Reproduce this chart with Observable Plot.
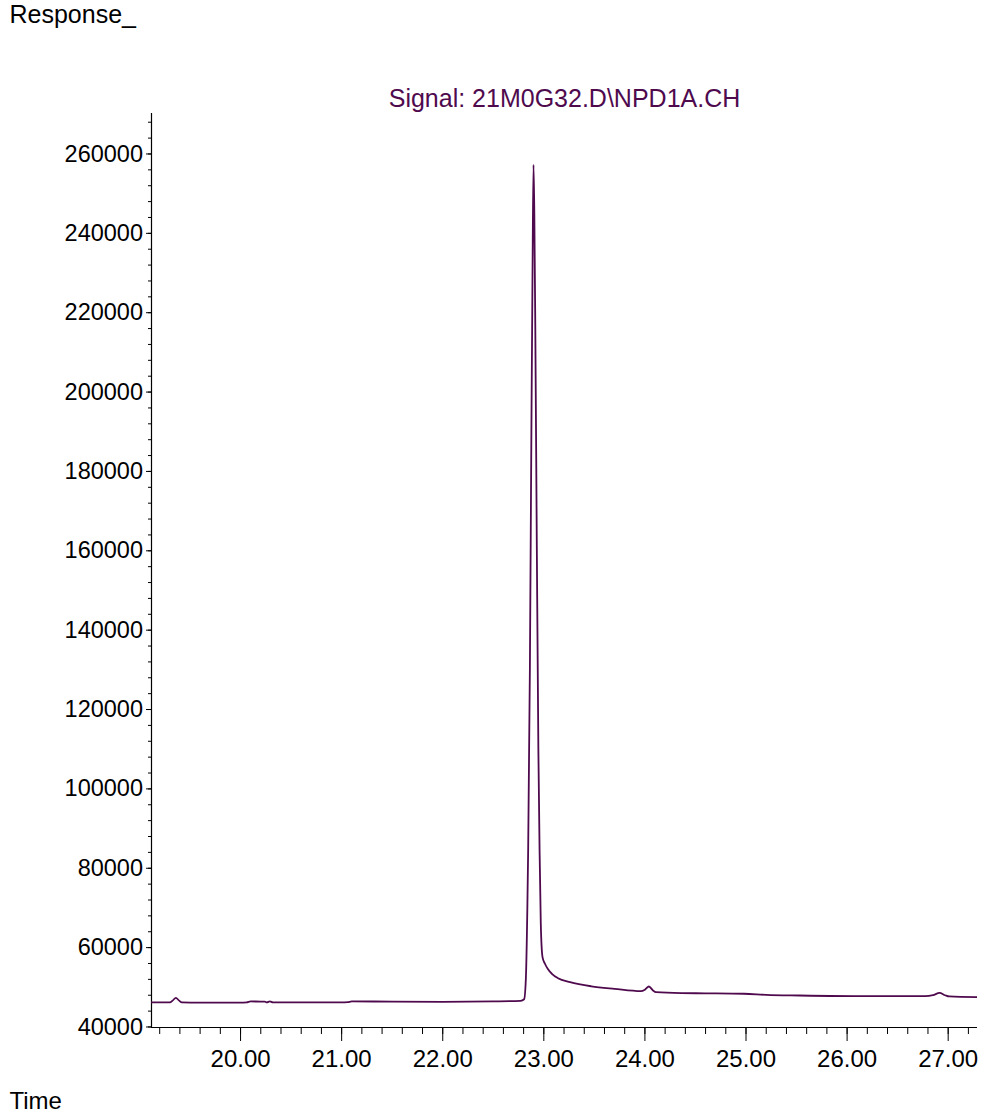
<!DOCTYPE html>
<html>
<head>
<meta charset="utf-8">
<script src="https://cdn.jsdelivr.net/npm/d3@7"></script>
<script src="https://cdn.jsdelivr.net/npm/@observablehq/plot@0.6"></script>
<style>
  html, body { margin: 0; padding: 0; background: #fff; }
  #chart svg { display: block; }
</style>
</head>
<body>
<div id="chart"></div>
<script>
// Retention time (min)
const times = [19.12, 19.30, 19.33, 19.36, 19.39, 19.42, 19.60, 20.00, 20.06, 20.10, 20.20, 20.24, 20.26, 20.29, 20.32, 20.60, 21.00, 21.06, 21.10, 21.50, 22.00, 22.50, 22.77, 22.805, 22.822, 22.837, 22.845, 22.862, 22.877, 22.889, 22.898, 22.906, 22.916, 22.931, 22.946, 22.958, 22.970, 22.987, 23.01, 23.04, 23.08, 23.14, 23.26, 23.47, 23.70, 23.96, 24.00, 24.04, 24.08, 24.11, 24.36, 24.60, 24.98, 25.20, 25.53, 26.20, 26.77, 26.85, 26.914, 26.97, 27.01, 27.29];
// Detector response
const values = [46200, 46200, 46700, 47350, 46700, 46200, 46150, 46150, 46200, 46450, 46400, 46400, 46200, 46450, 46200, 46200, 46200, 46250, 46450, 46400, 46350, 46450, 46600, 47000, 52000, 70000, 84500, 130000, 190000, 233000, 257300, 245000, 215000, 160000, 110000, 84500, 66000, 57600, 56000, 54600, 53400, 52300, 51300, 50250, 49600, 49020, 49400, 50200, 49200, 48780, 48530, 48480, 48370, 48100, 47940, 47760, 47760, 48000, 48600, 48000, 47690, 47510];

const xMajorTicks = [20, 21, 22, 23, 24, 25, 26, 27];
const xMinorTicks = d3.range(0, 41).map(i => +(19.2 + i * 0.2).toFixed(1));
const yMajorTicks = [40000, 60000, 80000, 100000, 120000, 140000, 160000, 180000, 200000, 220000, 240000, 260000];
const yMinorTicks = d3.range(40000, 268001, 4000);

const titleText = "Signal: 21M0G32.D\\NPD1A.CH";
const yTitle = "Response_";
const xTitle = "Time";

const xDomain = [19.119, 27.29];
const yDomain = [39870, 270200];

const data = times.map((t, i) => ({t, v: values[i]}));
const lineColor = "#4f0a4e";
const font = "'Liberation Sans', Arial, Helvetica, sans-serif";

const chart = Plot.plot({
  width: 983,
  height: 1117,
  marginLeft: 151,
  marginRight: 6,
  marginTop: 113,
  marginBottom: 90,
  style: {fontFamily: font, fontSize: "24px", background: "#fff", color: "#000"},
  x: {domain: xDomain, label: null},
  y: {domain: yDomain, label: null},
  marks: [
    Plot.axisY(yMinorTicks, {tickSize: 3, tickFormat: () => "", label: null, stroke: "#000"}),
    Plot.axisY(yMajorTicks, {tickSize: 5, tickPadding: 3.5, tickFormat: d3.format("d"), label: null, stroke: "#000", fill: "#000", fontSize: 23.5}),
    Plot.axisX(xMinorTicks, {tickSize: 7, tickFormat: () => "", label: null, stroke: "#000"}),
    Plot.axisX(xMajorTicks, {tickSize: 14, tickPadding: 8, tickFormat: d3.format(".2f"), label: null, stroke: "#000", fill: "#000", fontSize: 24}),
    Plot.ruleX([xDomain[0]], {stroke: "#000", strokeWidth: 1.2}),
    Plot.ruleY([yDomain[0]], {stroke: "#000", strokeWidth: 1.2}),
    Plot.line(data, {x: "t", y: "v", stroke: lineColor, strokeWidth: 1.8, curve: "monotone-x", clip: true}),
    Plot.text([titleText], {frameAnchor: "top", dy: -6.5, lineAnchor: "bottom", fill: lineColor, fontSize: 25}),
    Plot.text([yTitle], {frameAnchor: "top-left", dx: -142, dy: -90.3, textAnchor: "start", lineAnchor: "bottom", fill: "#000", fontSize: 25}),
    Plot.text([xTitle], {frameAnchor: "bottom-left", dx: -142, dy: 81, textAnchor: "start", lineAnchor: "bottom", fill: "#000", fontSize: 24})
  ]
});
document.getElementById("chart").appendChild(chart);
</script>
</body>
</html>
